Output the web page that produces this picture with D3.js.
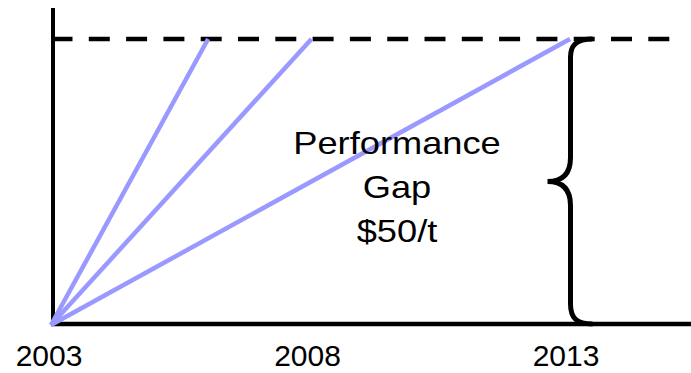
<!DOCTYPE html>
<html>
<head>
<meta charset="utf-8">
<script src="https://cdn.jsdelivr.net/npm/d3@7"></script>
<style>
  html, body { margin: 0; padding: 0; background: #fff; }
  svg { display: block; }
  text { font-family: "Liberation Sans", Arial, Helvetica, sans-serif; fill: #000; }
</style>
</head>
<body>
<svg id="chart" width="691" height="373"></svg>
<script>
// Tick years along the time axis
const tickYears = [2003, 2008, 2013];
// Each pathway starts in 2003 at zero and closes the gap by its target year
const startYear = 2003;
const targetYears = [2006, 2008, 2013];
// Size of the performance gap ($/t)
const gapValue = 50;
const gapLabel = ["Performance", "Gap", "$50/t"];

const svg = d3.select("#chart");
const W = 691, H = 373;

const x = d3.scaleLinear().domain([2003, 2013]).range([53, 570]);
const y = d3.scaleLinear().domain([0, gapValue]).range([324, 39]);

// Axes
svg.append("line")
  .attr("x1", x(startYear)).attr("x2", x(startYear))
  .attr("y1", 8).attr("y2", y(0) + 2)
  .attr("stroke", "#000").attr("stroke-width", 4);

svg.append("line")
  .attr("x1", x(startYear) - 2).attr("x2", W)
  .attr("y1", y(0)).attr("y2", y(0))
  .attr("stroke", "#000").attr("stroke-width", 4.5);

// Target level (dashed)
svg.append("line")
  .attr("x1", x(startYear) - 1.5).attr("x2", 671)
  .attr("y1", y(gapValue)).attr("y2", y(gapValue))
  .attr("stroke", "#000").attr("stroke-width", 4.5)
  .attr("stroke-dasharray", "21 16.3");

// Pathway lines
svg.append("g").selectAll("line")
  .data(targetYears)
  .join("line")
  .attr("x1", x(startYear) - 2).attr("y1", y(0) + 1)
  .attr("x2", d => x(d)).attr("y2", y(gapValue))
  .attr("stroke", "#9999ff").attr("stroke-width", 4.5)
  .attr("stroke-linecap", "butt");

// Curly brace spanning the gap
const bx = x(2013) + 0.5;
const yt = y(gapValue), yb = y(0), ym = y(gapValue / 2);
const brace = [
  `M ${bx + 22},${yt}`,
  `C ${bx + 6},${yt} ${bx},${yt + 6} ${bx},${yt + 18}`,
  `L ${bx},${ym - 24}`,
  `C ${bx},${ym - 8} ${bx - 8},${ym} ${bx - 23},${ym}`,
  `C ${bx - 8},${ym} ${bx},${ym + 8} ${bx},${ym + 24}`,
  `L ${bx},${yb - 20}`,
  `C ${bx},${yb - 6} ${bx + 6},${yb} ${bx + 22},${yb}`
].join(" ");
svg.append("path")
  .attr("d", brace)
  .attr("fill", "none")
  .attr("stroke", "#000").attr("stroke-width", 5);

// Gap annotation
const cx = 397;
const label = svg.append("g")
  .attr("transform", `translate(${cx},0) scale(1.17,1)`);
label.selectAll("text")
  .data(gapLabel)
  .join("text")
  .attr("x", 0)
  .attr("y", (d, i) => 154 + i * 44)
  .attr("text-anchor", "middle")
  .attr("font-size", 31)
  .text(d => d);

// Year labels
svg.append("g").selectAll("text")
  .data(tickYears)
  .join("text")
  .attr("x", d => x(d) - 4)
  .attr("y", 366)
  .attr("text-anchor", "middle")
  .attr("font-size", 30)
  .text(d => d);
</script>
</body>
</html>
